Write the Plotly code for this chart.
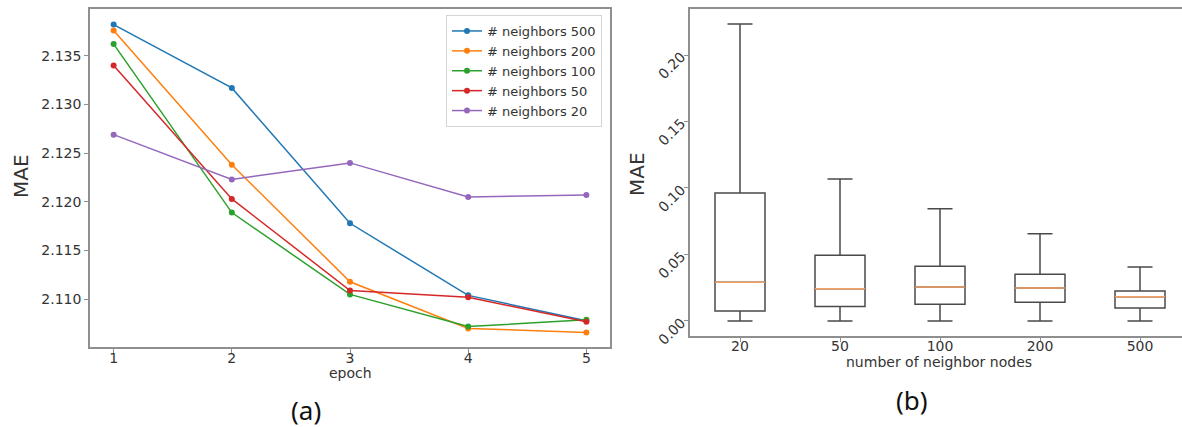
import plotly.graph_objects as go

# ---- data -------------------------------------------------------------
epochs = [1, 2, 3, 4, 5]
series_names = ["# neighbors 500", "# neighbors 200", "# neighbors 100",
                "# neighbors 50", "# neighbors 20"]
mae_500 = [2.1382, 2.1317, 2.1178, 2.1104, 2.1078]
mae_200 = [2.1376, 2.1238, 2.1118, 2.1070, 2.1066]
mae_100 = [2.1362, 2.1189, 2.1105, 2.1072, 2.1079]
mae_50 = [2.1340, 2.1203, 2.1109, 2.1102, 2.1077]
mae_20 = [2.1269, 2.1223, 2.1240, 2.1205, 2.1207]

neighbor_labels = ["20", "50", "100", "200", "500"]
box_whisker_low = [0.0, 0.0, 0.0, 0.0, 0.0]
box_q1 = [0.0075, 0.0108, 0.0126, 0.0141, 0.0098]
box_median = [0.0291, 0.0243, 0.0256, 0.0248, 0.0183]
box_q3 = [0.0962, 0.0494, 0.0411, 0.0351, 0.0226]
box_whisker_high = [0.2233, 0.1068, 0.0844, 0.0656, 0.0406]

left_ticks = [2.110, 2.115, 2.120, 2.125, 2.130, 2.135]
right_ticks = [0.00, 0.05, 0.10, 0.15, 0.20]

# ---- styling ----------------------------------------------------------
W, H = 1182, 427
colors = ["#1f77b4", "#ff7f0e", "#2ca02c", "#d62728", "#9467bd"]
spine = "#8f8f8f"
text_col = "#333333"
tick_font = dict(family="DejaVu Sans", size=14, color=text_col)
BOX_W = 0.5


def px_x(v):
    return v / W


def px_y(v):
    return 1 - v / H


fig = go.Figure()

for name, vals, c in zip(series_names, [mae_500, mae_200, mae_100, mae_50, mae_20], colors):
    fig.add_trace(go.Scatter(
        x=epochs, y=vals, name=name, mode="lines+markers",
        line=dict(color=c, width=1.5), marker=dict(color=c, size=6),
        xaxis="x", yaxis="y",
    ))

positions = list(range(1, len(neighbor_labels) + 1))
fig.add_trace(go.Box(
    x=positions, q1=box_q1, median=box_median, q3=box_q3,
    lowerfence=box_whisker_low, upperfence=box_whisker_high,
    width=BOX_W, whiskerwidth=0.5, boxpoints=False,
    fillcolor="rgba(255,255,255,0)", line=dict(color="#4a4a4a", width=1.5),
    showlegend=False, hoverinfo="skip", xaxis="x2", yaxis="y2",
))

# orange median segments drawn over each box
mx, my = [], []
for p, m in zip(positions, box_median):
    mx += [p - BOX_W / 2, p + BOX_W / 2, None]
    my += [m, m, None]
fig.add_trace(go.Scatter(
    x=mx, y=my, mode="lines", line=dict(color="#f7a063", width=1.5),
    showlegend=False, hoverinfo="skip", xaxis="x2", yaxis="y2",
))

axis_common = dict(showgrid=False, zeroline=False, showline=True,
                   linecolor=spine, linewidth=1.5, ticks="outside",
                   ticklen=4, tickcolor=spine, tickwidth=1.2,
                   tickfont=tick_font, automargin=False)

fig.update_layout(
    width=W, height=H,
    margin=dict(l=0, r=0, t=0, b=0, autoexpand=False),
    paper_bgcolor="white", plot_bgcolor="white",
    xaxis=dict(domain=[px_x(90), px_x(610)], range=[0.8, 5.2],
               tickvals=epochs, mirror=True, anchor="y",
               ticklabelstandoff=-7, **axis_common),
    yaxis=dict(domain=[px_y(347), px_y(9)], range=[2.1051, 2.1398],
               tickvals=left_ticks, tickformat=".3f", mirror=True,
               anchor="x", **axis_common),
    xaxis2=dict(domain=[px_x(690), 1.0], range=[0.5, 5.42],
                tickvals=positions, ticktext=neighbor_labels, mirror=True,
                anchor="y2", ticklabelstandoff=-8, **axis_common),
    yaxis2=dict(domain=[px_y(336), px_y(9)], range=[-0.0113, 0.2346],
                tickvals=right_ticks, tickformat=".2f", tickangle=-45,
                anchor="x2", **axis_common),
    legend=dict(x=px_x(602), xanchor="right", y=px_y(15), yanchor="top",
                bgcolor="white", bordercolor="#d4d4d4", borderwidth=1,
                font=dict(family="DejaVu Sans", size=13, color=text_col),
                tracegroupgap=0),
    showlegend=True,
)

annotations = [
    dict(text="MAE", x=px_x(21), y=px_y(176), textangle=-90,
         font=dict(family="DejaVu Sans", size=20, color=text_col)),
    dict(text="MAE", x=px_x(637), y=px_y(174), textangle=-90,
         font=dict(family="DejaVu Sans", size=20, color=text_col)),
    dict(text="epoch", x=px_x(350), y=px_y(373),
         font=dict(family="DejaVu Sans", size=14, color=text_col)),
    dict(text="number of neighbor nodes", x=px_x(939), y=px_y(362),
         font=dict(family="DejaVu Sans", size=14, color=text_col)),
    dict(text="(a)", x=px_x(306), y=px_y(410),
         font=dict(family="Noto Sans", size=26, color="#111111")),
    dict(text="(b)", x=px_x(912), y=px_y(400),
         font=dict(family="Noto Sans", size=26, color="#111111")),
]
for a in annotations:
    a.update(xref="paper", yref="paper", showarrow=False,
             xanchor="center", yanchor="middle")
fig.update_layout(annotations=annotations)

fig.write_html("out.html")
